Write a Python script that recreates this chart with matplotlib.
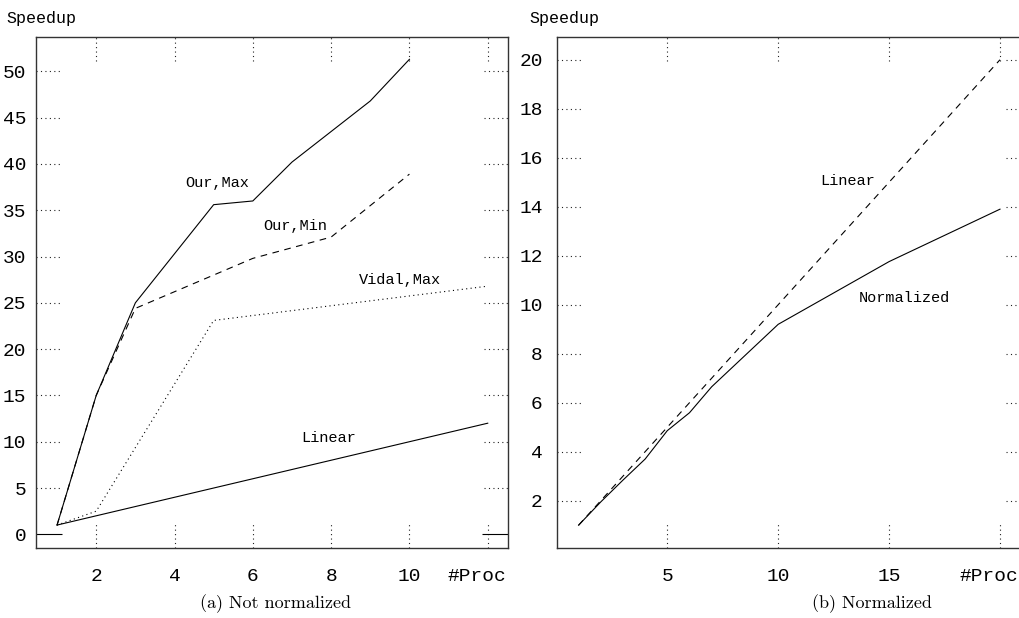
import matplotlib
matplotlib.use("Agg")
import matplotlib.pyplot as plt

# ---------------- data ----------------
# (a) Not normalized
procs_our_max = [1, 2, 3, 5, 6, 7, 9, 10]
our_max = [1, 15, 25.0, 35.6, 36.0, 40.2, 46.8, 51.3]
procs_our_min = [1, 2, 3, 6, 8, 10]
our_min = [1, 15, 24.4, 29.8, 32.1, 38.9]
procs_vidal = [1, 2, 5, 12]
vidal_max = [1, 2.5, 23.1, 26.8]
procs_linear_a = [1, 12]
linear_a = [1, 12]

# (b) Normalized
procs_norm = [1, 2, 3, 4, 5, 6, 7, 10, 15, 20]
normalized = [1, 1.95, 2.84, 3.7, 4.86, 5.59, 6.65, 9.2, 11.76, 13.9]
procs_linear_b = [1, 20]
linear_b = [1, 20]

xticks_a = [2, 4, 6, 8, 10, 12]
xlabels_a = ["2", "4", "6", "8", "10", "#Proc"]
yticks_a = [0, 5, 10, 15, 20, 25, 30, 35, 40, 45, 50]

xticks_b = [5, 10, 15, 20]
xlabels_b = ["5", "10", "15", "#Proc"]
yticks_b = [2, 4, 6, 8, 10, 12, 14, 16, 18, 20]

MONO = "Liberation Mono"
TICKSIZE = 14
W, H = 1019, 618
fig = plt.figure(figsize=(W / 100, H / 100), dpi=100)

top_px, bot_px = 36.7, 548.3
axL = fig.add_axes([36 / W, 1 - bot_px / H, (507.7 - 36) / W, (bot_px - top_px) / H])
axR = fig.add_axes([557.3 / W, 1 - bot_px / H, (1030 - 557.3) / W, (bot_px - top_px) / H])

LW = 0.8
DOT = (0, (1, 3))
DASH = (0, (6, 5))


def style(ax, xt, xl, yt, width_px, ypad, zero_solid=False):
    for s in ax.spines.values():
        s.set_linewidth(1.0)
        s.set_color("#333333")
    # last x label (#Proc) is drawn separately, slightly shifted left
    ax.set_xticks(xt, list(xl[:-1]) + [""])
    ax.set_yticks(yt, [str(v) for v in yt])
    ax.tick_params(axis="x", length=0, pad=14, labelsize=TICKSIZE)
    ax.tick_params(axis="y", length=0, pad=ypad, labelsize=TICKSIZE)
    for lab in ax.get_xticklabels() + ax.get_yticklabels():
        lab.set_fontfamily(MONO)
    ax.annotate(xl[-1], xy=(xt[-1], 0), xycoords=ax.get_xaxis_transform(),
                xytext=(-11, -28), textcoords="offset pixels",
                ha="center", va="center", fontfamily=MONO, fontsize=TICKSIZE,
                annotation_clip=False)
    height_px = bot_px - top_px
    tx = 24 / height_px
    ty = 24 / width_px
    xtr = ax.get_xaxis_transform()
    ytr = ax.get_yaxis_transform()
    kw = dict(colors="#222222", linewidth=0.8, linestyles=DOT)
    ax.vlines(xt, 0, tx, transform=xtr, **kw)
    ax.vlines(xt, 1 - tx, 1, transform=xtr, **kw)
    dotted_y = [v for v in yt if not (zero_solid and v == 0)]
    ax.hlines(dotted_y, 0, ty, transform=ytr, **kw)
    ax.hlines(dotted_y, 1 - ty, 1, transform=ytr, **kw)
    if zero_solid:
        ax.hlines([0], 0, 26 / width_px, transform=ytr, colors="black", linewidth=LW)
        ax.hlines([0], 1 - 26 / width_px, 1, transform=ytr, colors="black", linewidth=LW)


# ---------- left panel ----------
axL.plot(procs_our_max, our_max, color="black", lw=LW)
axL.plot(procs_our_min, our_min, color="black", lw=LW, linestyle=DASH)
axL.plot(procs_vidal, vidal_max, color="black", lw=LW, linestyle=DOT)
axL.plot(procs_linear_a, linear_a, color="black", lw=LW)
axL.set_xlim(0.462, 12.51)
axL.set_ylim(-1.51, 53.74)
style(axL, xticks_a, xlabels_a, yticks_a, 507.7 - 36, 7, zero_solid=True)

tk = dict(fontfamily=MONO, fontsize=11, ha="center", va="center")
axL.text(5.1, 37.95, "Our,Max", **tk)
axL.text(7.07, 33.3, "Our,Min", **tk)
axL.text(9.76, 27.46, "Vidal,Max", **tk)
axL.text(7.93, 10.37, "Linear", **tk)

# ---------- right panel ----------
axR.plot(procs_linear_b, linear_b, color="black", lw=LW, linestyle=DASH)
axR.plot(procs_norm, normalized, color="black", lw=LW)
axR.set_xlim(0.04, 20 + 30 / 22.18)
axR.set_ylim(0.057, 20.94)
style(axR, xticks_b, xlabels_b, yticks_b, 1030 - 557.3, 10.5)
axR.spines["right"].set_visible(False)

axR.text(13.12, 15.06, "Linear", **tk)
axR.text(15.69, 10.26, "Normalized", **tk)

# ---------- figure texts ----------
fig.text(6 / W, 1 - 18 / H, "Speedup", fontfamily=MONO, fontsize=12, ha="left", va="center")
fig.text(529 / W, 1 - 18 / H, "Speedup", fontfamily=MONO, fontsize=12, ha="left", va="center")
fig.text(275.5 / W, 1 - 604 / H, "(a) Not normalized", fontfamily="cmr10", fontsize=13,
         ha="center", va="center")
fig.text(872 / W, 1 - 604 / H, "(b) Normalized", fontfamily="cmr10", fontsize=13,
         ha="center", va="center")

fig.savefig("out.png", dpi=100)
